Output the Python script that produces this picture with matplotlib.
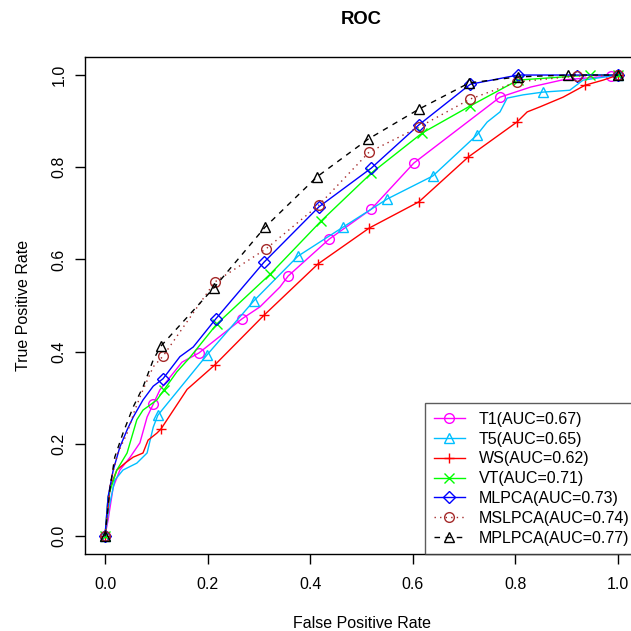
import matplotlib
matplotlib.use('Agg')
import matplotlib.pyplot as plt

plt.rcParams['font.family'] = ['Liberation Sans', 'DejaVu Sans']

# Curves (false positive rate, true positive rate)
t1_fpr = [0, 0.006, 0.016, 0.029, 0.049, 0.068, 0.082, 0.094, 0.107, 0.15, 0.183, 0.267, 0.302, 0.341, 0.357,
          0.437, 0.519, 0.602, 0.770, 0.83, 0.89, 0.986, 1.0]
t1_tpr = [0, 0.035, 0.106, 0.143, 0.171, 0.202, 0.258, 0.286, 0.317, 0.377, 0.397, 0.471, 0.497, 0.540, 0.564,
          0.644, 0.709, 0.809, 0.952, 0.974, 0.989, 0.998, 1.0]
t1_mk_fpr = [0, 0.094, 0.183, 0.267, 0.357, 0.437, 0.519, 0.602, 0.770, 0.986, 1.0]
t1_mk_tpr = [0, 0.286, 0.397, 0.471, 0.564, 0.644, 0.709, 0.809, 0.952, 0.998, 1.0]

t5_fpr = [0, 0.008, 0.019, 0.035, 0.062, 0.082, 0.094, 0.103, 0.199, 0.290, 0.376, 0.464, 0.550, 0.639,
          0.725, 0.745, 0.770, 0.784, 0.815, 0.854, 0.906, 0.932, 1.0]
t5_tpr = [0, 0.063, 0.121, 0.143, 0.158, 0.180, 0.236, 0.262, 0.393, 0.510, 0.607, 0.670, 0.731, 0.781,
          0.870, 0.898, 0.920, 0.950, 0.957, 0.963, 0.967, 0.989, 1.0]
t5_mk_fpr = [0, 0.103, 0.199, 0.290, 0.376, 0.464, 0.550, 0.639, 0.725, 0.854, 1.0]
t5_mk_tpr = [0, 0.262, 0.393, 0.510, 0.607, 0.670, 0.731, 0.781, 0.870, 0.963, 1.0]

ws_fpr = [0, 0.010, 0.023, 0.039, 0.055, 0.074, 0.084, 0.101, 0.109, 0.16, 0.214, 0.310, 0.415, 0.515,
          0.612, 0.708, 0.803, 0.823, 0.848, 0.893, 0.936, 0.971, 1.0]
ws_tpr = [0, 0.106, 0.143, 0.158, 0.171, 0.180, 0.208, 0.223, 0.232, 0.318, 0.371, 0.479, 0.590, 0.668,
          0.725, 0.822, 0.898, 0.920, 0.931, 0.952, 0.978, 0.989, 1.0]
ws_mk_fpr = [0, 0.109, 0.214, 0.310, 0.415, 0.515, 0.612, 0.708, 0.803, 0.936, 1.0]
ws_mk_tpr = [0, 0.232, 0.371, 0.479, 0.590, 0.668, 0.725, 0.822, 0.898, 0.978, 1.0]

vt_fpr = [0, 0.006, 0.023, 0.043, 0.062, 0.074, 0.101, 0.115, 0.140, 0.166, 0.218, 0.322, 0.421, 0.519,
          0.618, 0.712, 0.805, 0.945, 1.0]
vt_tpr = [0, 0.085, 0.143, 0.180, 0.252, 0.273, 0.295, 0.317, 0.356, 0.388, 0.460, 0.568, 0.683, 0.787,
          0.874, 0.933, 0.989, 1.0, 1.0]
vt_mk_fpr = [0, 0.115, 0.218, 0.322, 0.421, 0.519, 0.618, 0.712, 0.805, 0.945, 1.0]
vt_mk_tpr = [0, 0.317, 0.460, 0.568, 0.683, 0.787, 0.874, 0.933, 0.989, 1.0, 1.0]

mlpca_fpr = [0, 0.006, 0.016, 0.029, 0.043, 0.055, 0.074, 0.094, 0.113, 0.146, 0.172, 0.216, 0.310, 0.417,
             0.519, 0.612, 0.712, 0.805, 0.920, 1.0]
mlpca_tpr = [0, 0.085, 0.143, 0.193, 0.230, 0.258, 0.295, 0.325, 0.341, 0.389, 0.410, 0.471, 0.594, 0.714,
             0.798, 0.892, 0.980, 1.0, 1.0, 1.0]
mlpca_mk_fpr = [0, 0.113, 0.216, 0.310, 0.417, 0.519, 0.612, 0.712, 0.805, 0.920, 1.0]
mlpca_mk_tpr = [0, 0.341, 0.471, 0.594, 0.714, 0.798, 0.892, 0.980, 1.0, 0.998, 1.0]

mslpca_fpr = [0, 0.010, 0.025, 0.043, 0.058, 0.074, 0.094, 0.113, 0.214, 0.314, 0.417, 0.515, 0.612,
              0.712, 0.803, 0.920, 1.0]
mslpca_tpr = [0, 0.115, 0.180, 0.223, 0.273, 0.317, 0.367, 0.390, 0.551, 0.623, 0.718, 0.833, 0.887,
              0.948, 0.985, 0.998, 1.0]
mslpca_mk_fpr = [0, 0.113, 0.214, 0.314, 0.417, 0.515, 0.612, 0.712, 0.803, 0.920, 1.0]
mslpca_mk_tpr = [0, 0.390, 0.551, 0.623, 0.718, 0.833, 0.887, 0.948, 0.985, 0.998, 1.0]

mplpca_fpr = [0, 0.010, 0.019, 0.035, 0.055, 0.074, 0.094, 0.109, 0.212, 0.312, 0.413, 0.513, 0.612,
              0.710, 0.805, 0.903, 1.0]
mplpca_tpr = [0, 0.106, 0.171, 0.223, 0.280, 0.323, 0.382, 0.412, 0.538, 0.670, 0.779, 0.861, 0.926,
              0.983, 0.996, 1.0, 1.0]
mplpca_mk_fpr = [0, 0.109, 0.212, 0.312, 0.413, 0.513, 0.612, 0.710, 0.805, 0.903, 1.0]
mplpca_mk_tpr = [0, 0.412, 0.538, 0.670, 0.779, 0.861, 0.926, 0.983, 0.996, 1.0, 1.0]

labels = ['T1(AUC=0.67)', 'T5(AUC=0.65)', 'WS(AUC=0.62)', 'VT(AUC=0.71)',
          'MLPCA(AUC=0.73)', 'MSLPCA(AUC=0.74)', 'MPLPCA(AUC=0.77)']

curves = [
    (t1_fpr, t1_tpr, t1_mk_fpr, t1_mk_tpr, '#FF00FF', 'o', '-'),
    (t5_fpr, t5_tpr, t5_mk_fpr, t5_mk_tpr, '#00BFFF', '^', '-'),
    (ws_fpr, ws_tpr, ws_mk_fpr, ws_mk_tpr, '#FF0000', '+', '-'),
    (vt_fpr, vt_tpr, vt_mk_fpr, vt_mk_tpr, '#00FF00', 'x', '-'),
    (mlpca_fpr, mlpca_tpr, mlpca_mk_fpr, mlpca_mk_tpr, '#0000FF', 'D', '-'),
    (mslpca_fpr, mslpca_tpr, mslpca_mk_fpr, mslpca_mk_tpr, '#A52A2A', 'o', (0, (1, 3))),
    (mplpca_fpr, mplpca_tpr, mplpca_mk_fpr, mplpca_mk_tpr, '#000000', '^', (0, (4, 4))),
]

fs = 11.5

fig = plt.figure(figsize=(6.31, 6.31), dpi=100)
ax = fig.add_axes([84.5 / 631, 1 - 554.4 / 631, 554 / 631, 497.8 / 631])

handles = []
for (fx, fy, mx, my, col, mk, ls), lab in zip(curves, labels):
    ax.plot(fx, fy, color=col, linestyle=ls, linewidth=1.0)
    ms = 6 if mk == 'D' else 7
    ax.plot(mx, my, linestyle='none', marker=mk, markersize=ms, markerfacecolor='none',
            markeredgecolor=col, markeredgewidth=1.0)
    h, = ax.plot([], [], color=col, linestyle=ls, linewidth=1.0, marker=mk, markersize=ms,
                 markerfacecolor='none', markeredgecolor=col, markeredgewidth=1.0)
    handles.append(h)

ax.set_xlim(-0.04, 1.04)
ax.set_ylim(-0.04, 1.04)
ticks = [0.0, 0.2, 0.4, 0.6, 0.8, 1.0]
ax.set_xticks(ticks)
ax.set_yticks(ticks)
ax.set_xticklabels(['%.1f' % t for t in ticks])
ax.set_yticklabels(['%.1f' % t for t in ticks], rotation=90, va='center')
ax.tick_params(direction='out', length=7, width=1, labelsize=fs)
ax.tick_params(axis='x', pad=9)
ax.tick_params(axis='y', pad=6)
for s in ax.spines.values():
    s.set_linewidth(1)

ax.set_xlabel('False Positive Rate', fontsize=fs, labelpad=17.3)
ax.set_ylabel('True Positive Rate', fontsize=fs, labelpad=15)
ax.set_title('ROC', fontsize=13.3, fontweight='bold', pad=23.5)

leg = ax.legend(handles, labels, loc='lower right', borderaxespad=0, fontsize=fs,
                fancybox=False, edgecolor='#333333', handlelength=1.9, labelspacing=0.3,
                borderpad=0.55, handletextpad=0.9)
leg.get_frame().set_linewidth(1.0)

plt.savefig('out.png', dpi=100)
